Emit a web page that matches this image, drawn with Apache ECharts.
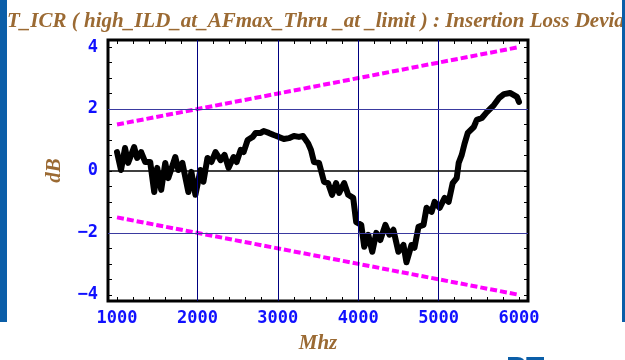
<!DOCTYPE html>
<html>
<head>
<meta charset="utf-8">
<script src="https://cdn.jsdelivr.net/npm/echarts@6/dist/echarts.min.js"></script>
<style>
html,body{margin:0;padding:0;background:#fff;}
#c{width:625px;height:360px;}
</style>
</head>
<body>
<div id="c"></div>
<script>
const titleText = 'T_ICR ( high_ILD_at_AFmax_Thru _at _limit ) : Insertion Loss Deviation';
const xLabels = [1000, 2000, 3000, 4000, 5000, 6000];
const yLabels = [-4, -2, 0, 2, 4];
const xGrid = [2000, 3000, 4000, 5000];
const yGrid = [-2, 2];
const limitFreq = [1000, 6000];
const upperLimit = [1.5, 4.0];
const lowerLimit = [-1.5, -4.0];
const freq = [1000,1050,1100,1138,1213,1250,1300,1350,1413,1463,1500,1550,1600,1638,1725,1763,1813,1888,1925,1975,2038,2075,2125,2175,2225,2288,2338,2388,2450,2488,2538,2575,2625,2688,2725,2788,2825,2888,2950,3013,3075,3138,3200,3263,3313,3375,3413,3450,3513,3575,3625,3675,3725,3763,3825,3875,3938,3975,4038,4075,4125,4175,4225,4275,4338,4388,4438,4500,4563,4600,4663,4700,4750,4813,4850,4913,4950,5013,5075,5125,5175,5225,5250,5288,5325,5363,5438,5475,5538,5600,5688,5750,5813,5888,5975,6000];
const ild = [0.61,0.03,0.74,0.26,0.77,0.42,0.61,0.29,0.29,-0.68,0.10,-0.61,0.26,-0.23,0.45,0.03,0.26,-0.68,-0.03,-0.77,0.03,-0.35,0.42,0.29,0.61,0.35,0.52,0.10,0.45,0.29,0.68,0.61,1.00,1.10,1.23,1.23,1.29,1.23,1.16,1.10,1.03,1.06,1.13,1.10,1.13,0.90,0.68,0.29,0.26,-0.35,-0.39,-0.77,-0.39,-0.71,-0.39,-0.77,-0.87,-1.65,-1.74,-2.45,-2.06,-2.61,-2.00,-2.23,-1.74,-2.06,-1.90,-2.61,-2.39,-2.95,-2.39,-2.48,-1.80,-1.74,-1.19,-1.32,-1.00,-1.19,-0.87,-1.00,-0.39,-0.23,0.26,0.52,0.90,1.23,1.42,1.65,1.71,1.90,2.13,2.35,2.48,2.52,2.39,2.23];

const xMinor = []; for (let v = 1000; v <= 6000; v += 200) xMinor.push(v);
const yMinor = []; for (let v = -4; v <= 4.001; v += 0.5) yMinor.push(+v.toFixed(1));

const brown = '#9b6a33';
const blue = '#1010ff';
const lblFont = {color: blue, fontFamily: 'DejaVu Sans Mono', fontWeight: 'bold', fontSize: 17};
const nameFont = {color: brown, fontFamily: 'Liberation Serif', fontStyle: 'italic', fontWeight: 'bold', fontSize: 21};

function xAx(pos, show) {
  return {
    type: 'value', position: pos, min: 888, max: 6112,
    name: show ? 'Mhz' : '', nameLocation: 'middle', nameGap: 32, nameTextStyle: nameFont,
    axisLine: {show: false, onZero: false},
    axisTick: {show: true, inside: true, length: 4, customValues: xMinor, lineStyle: {color: '#000', width: 1}},
    axisLabel: show ? Object.assign({show: true, customValues: xLabels, margin: 9,
      formatter: v => String(v)}, lblFont) : {show: false},
    splitLine: {show: false}
  };
}
function yAx(pos, show) {
  return {
    type: 'value', position: pos, min: -4.2, max: 4.23,
    name: show ? 'dB' : '', nameLocation: 'middle', nameGap: 43, nameRotate: 90, nameTextStyle: nameFont,
    axisLine: {show: false, onZero: false},
    axisTick: {show: true, inside: true, length: 4, customValues: yMinor, lineStyle: {color: '#000', width: 1}},
    axisLabel: show ? Object.assign({show: true, customValues: yLabels, margin: 10,
      formatter: v => String(v).replace('-', '\u2212')}, lblFont) : {show: false},
    splitLine: {show: false}
  };
}

const chart = echarts.init(document.getElementById('c'), null, {renderer: 'canvas'});
chart.setOption({
  animation: false,
  backgroundColor: '#fff',
  title: {text: titleText, left: 2, top: 6,
    textStyle: {color: brown, fontFamily: 'Liberation Serif', fontStyle: 'italic', fontWeight: 'bold', fontSize: 21}},
  grid: {left: 108, right: 97, top: 40, bottom: 59, show: true, borderColor: '#000', borderWidth: 3,
    backgroundColor: '#fff', containLabel: false, outerBoundsMode: 'none'},
  xAxis: [xAx('bottom', true), xAx('top', false)],
  yAxis: [yAx('left', true), yAx('right', false)],
  series: [
    {
      type: 'line', silent: true, symbol: 'none', data: [],
      markLine: {
        silent: true, symbol: 'none', label: {show: false},
        data: xGrid.map(v => ({xAxis: v, lineStyle: {color: '#000080', width: 1, type: 'solid'}}))
          .concat(yGrid.map(v => ({yAxis: v, lineStyle: {color: '#3a3aa0', width: 1, type: 'solid'}})))
          .concat([{yAxis: 0, lineStyle: {color: '#000', width: 1.5, type: 'solid'}}])
      }
    },
    {
      type: 'line', symbol: 'none', z: 3,
      data: limitFreq.map((f, i) => [f, upperLimit[i]]),
      lineStyle: {color: '#ff00ff', width: 4, type: [7, 3]}
    },
    {
      type: 'line', symbol: 'none', z: 3,
      data: limitFreq.map((f, i) => [f, lowerLimit[i]]),
      lineStyle: {color: '#ff00ff', width: 4, type: [7, 3]}
    },
    {
      type: 'line', symbol: 'none', z: 4,
      data: freq.map((f, i) => [f, ild[i]]),
      lineStyle: {color: '#000', width: 6, join: 'round', cap: 'round'}
    }
  ],
  graphic: [
    {type: 'rect', shape: {x: 0, y: 0, width: 7, height: 322}, style: {fill: '#0b5ea8'}, z: 100},
    {type: 'rect', shape: {x: 622, y: 0, width: 3, height: 322}, style: {fill: '#0b5ea8'}, z: 100},
    {type: 'text', left: 506, top: 354, style: {text: 'PT', fill: '#0b5ea8', font: 'bold 30px "Liberation Sans"'}, z: 100}
  ]
});
</script>
</body>
</html>
